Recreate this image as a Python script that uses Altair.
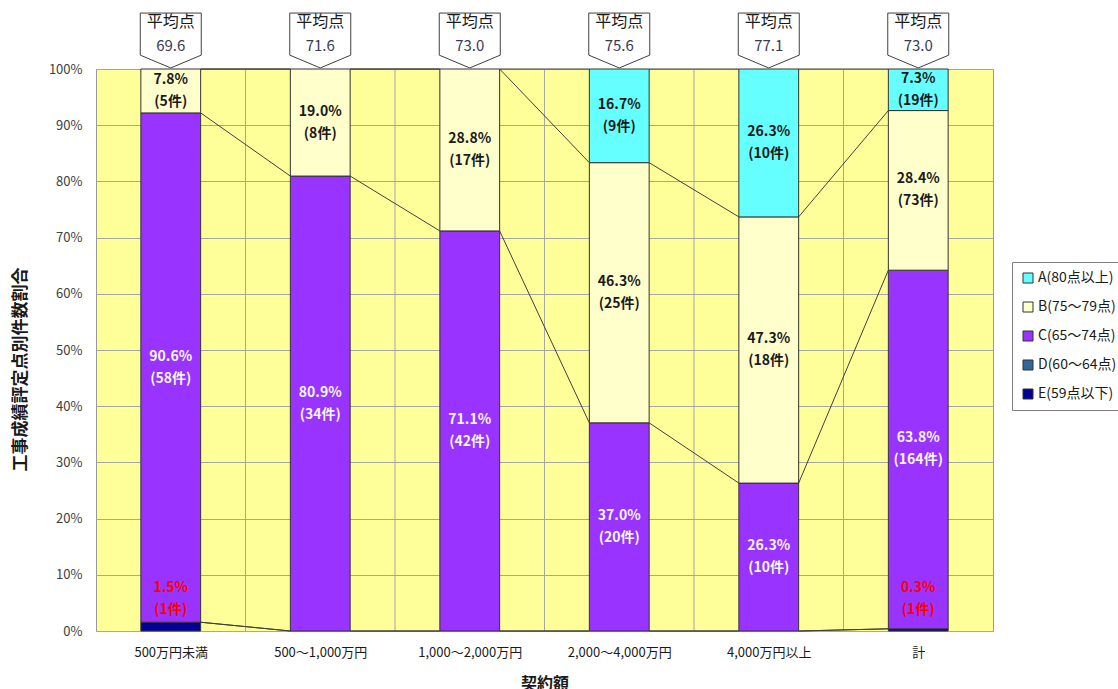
import altair as alt
import pandas as pd

categories = ["500万円未満", "500～1,000万円", "1,000～2,000万円", "2,000～4,000万円", "4,000万円以上", "計"]
series_names = ["A(80点以上)", "B(75～79点)", "C(65～74点)", "D(60～64点)", "E(59点以下)"]
series_colors = ["#66FFFF", "#FFFFCC", "#9933FF", "#336699", "#000099"]

count_A = [0, 0, 0, 9, 10, 19]
count_B = [5, 8, 17, 25, 18, 73]
count_C = [58, 34, 42, 20, 10, 164]
count_D = [0, 0, 0, 0, 0, 0]
count_E = [1, 0, 0, 0, 0, 1]

pct_A = ["", "", "", "16.7%", "26.3%", "7.3%"]
pct_B = ["7.8%", "19.0%", "28.8%", "46.3%", "47.3%", "28.4%"]
pct_C = ["90.6%", "80.9%", "71.1%", "37.0%", "26.3%", "63.8%"]
pct_D = ["", "", "", "", "", ""]
pct_E = ["1.5%", "", "", "", "", "0.3%"]

avg_scores = [69.6, 71.6, 73.0, 75.6, 77.1, 73.0]

# stacking order bottom -> top
stack = [
    ("E", series_names[4], count_E, pct_E),
    ("D", series_names[3], count_D, pct_D),
    ("C", series_names[2], count_C, pct_C),
    ("B", series_names[1], count_B, pct_B),
    ("A", series_names[0], count_A, pct_A),
]

totals = [sum(s[2][i] for s in stack) for i in range(len(categories))]

seg_rows = []
tops = {}
for i, cat in enumerate(categories):
    cum = 0.0
    for key, name, cnt, pct in stack:
        share = cnt[i] / totals[i] * 100
        y0 = cum
        cum += share
        tops.setdefault(key, []).append(cum)
        seg_rows.append(dict(idx=i, cat=cat, key=key, series=name, count=cnt[i],
                             pct=pct[i], y0=y0, y1=cum, mid=(y0 + cum) / 2))
seg = pd.DataFrame(seg_rows)
seg = seg[seg["count"] > 0].copy()
seg["label"] = seg["pct"] + "\n(" + seg["count"].astype(str) + "件)"

line_rows = []
for key, name, cnt, pct in stack:
    for i in range(len(categories) - 1):
        line_rows.append(dict(key=key, a=i, b=i + 1, ya=tops[key][i], yb=tops[key][i + 1]))
lines = pd.DataFrame(line_rows)

avg_df = pd.DataFrame({"idx": list(range(len(categories))), "avg": avg_scores})
bounds_df = pd.DataFrame({"b": list(range(1, len(categories)))})

FONT = "Noto Sans CJK JP"
xscale = alt.Scale(domain=[0, len(categories)], nice=False, zero=False)
yscale = alt.Scale(domain=[0, 100], nice=False)
label_expr = "[" + ",".join("'" + c + "'" for c in categories) + "][floor(datum.value)]"

x_axis = alt.Axis(values=[i + 0.5 for i in range(len(categories))], labelExpr=label_expr,
                  grid=False, ticks=False, domain=False, labelFontSize=13, labelColor="#1a1a1a",
                  labelFont=FONT, labelPadding=15, title="契約額", titleFont=FONT,
                  titleFontSize=16, titleFontWeight="bold", titleColor="#1a1a1a", titlePadding=16)
y_axis = alt.Axis(values=list(range(0, 101, 10)), labelExpr="datum.value + '%'",
                  grid=True, gridColor="#A6A6A6", gridWidth=1, ticks=False, domain=False,
                  labelFontSize=13, labelColor="#404040", labelFont=FONT, labelPadding=14,
                  title="工事成績評定点別件数割合", titleFont=FONT, titleFontSize=17,
                  titleFontWeight="bold", titleColor="#1a1a1a", titleX=-76, titleY=300,
                  titleAngle=270, titleAlign="center", titleBaseline="middle")

base_seg = alt.Chart(seg).transform_calculate(x0="datum.idx + 0.3", x1="datum.idx + 0.7")

vgrid = alt.Chart(bounds_df).mark_rule(color="#A6A6A6", strokeWidth=1).encode(
    x=alt.X("b:Q", scale=xscale, axis=x_axis)
)

bars = base_seg.mark_bar(stroke="#333333", strokeWidth=1).encode(
    x=alt.X("x0:Q", scale=xscale, axis=x_axis),
    x2="x1:Q",
    y=alt.Y("y0:Q", scale=yscale, axis=y_axis),
    y2="y1:Q",
    color=alt.Color("series:N", scale=alt.Scale(domain=series_names, range=series_colors),
                    legend=alt.Legend(title=None, orient="none", legendX=916, legendY=193,
                                      symbolType="square", symbolSize=100,
                                      symbolStrokeColor="#333333", symbolStrokeWidth=1,
                                      labelFont=FONT, labelFontSize=14, labelColor="#1a1a1a",
                                      labelOffset=3,
                                      rowPadding=15, padding=9, strokeColor="#808080",
                                      fillColor="white", labelLimit=200)),
)

series_lines = alt.Chart(lines).transform_calculate(
    xa="datum.a + 0.7", xb="datum.b + 0.3"
).mark_rule(color="#404040", strokeWidth=1).encode(
    x=alt.X("xa:Q", scale=xscale), x2="xb:Q",
    y=alt.Y("ya:Q", scale=yscale), y2="yb:Q",
)

def text_layer(keys, color, ycol="mid", dy=-11):
    return base_seg.transform_filter(
        alt.FieldOneOfPredicate(field="key", oneOf=keys)
    ).transform_calculate(xc="datum.idx + 0.5").mark_text(
        font=FONT, fontSize=14, fontWeight="bold", color=color, lineBreak="\n",
        lineHeight=22, baseline="middle", dy=dy
    ).encode(
        x=alt.X("xc:Q", scale=xscale), y=alt.Y(f"{ycol}:Q", scale=yscale), text="label:N"
    )

txt_c = text_layer(["C"], "#F4F4F4")
txt_ab = text_layer(["A", "B"], "#1a1a1a")
txt_e = text_layer(["E"], "#FF0000", ycol="y0", dy=-43)

callout_path = "M-1,-0.9 L1,-0.9 L1,0.48 L0,0.9 L-1,0.48 Z"
avg_base = alt.Chart(avg_df).transform_calculate(xc="datum.idx + 0.5")
callouts = avg_base.mark_point(shape=callout_path, size=3721, filled=True, color="white",
                               stroke="#404040", strokeWidth=1, opacity=1).encode(
    x=alt.X("xc:Q", scale=xscale), y=alt.value(-28.5)
)
callout_title = avg_base.mark_text(font=FONT, fontSize=16, color="#1a1a1a", baseline="middle").encode(
    x=alt.X("xc:Q", scale=xscale), y=alt.value(-47), text=alt.value("平均点")
)
callout_val = avg_base.mark_text(font=FONT, fontSize=15, color="#3a3a55", baseline="middle").encode(
    x=alt.X("xc:Q", scale=xscale), y=alt.value(-23), text=alt.Text("avg:Q", format=".1f")
)

chart = alt.layer(
    vgrid, bars, series_lines, txt_c, txt_ab, txt_e, callouts, callout_title, callout_val
).properties(
    width=897, height=562,
    padding={"left": 96, "top": 69, "right": 125, "bottom": 58},
    autosize=alt.AutoSizeParams(type="none"),
    background="white",
).configure_view(stroke="#999999", strokeWidth=1, fill="#FFFF99")

chart.save("out.html", embed_options={"renderer": "svg", "actions": False})
